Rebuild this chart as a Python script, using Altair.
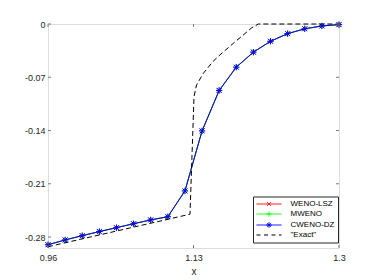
import altair as alt
import pandas as pd

# ---- data ----
x_grid = [0.96, 0.98, 1.00, 1.02, 1.04, 1.06, 1.08, 1.10, 1.12, 1.14,
          1.16, 1.18, 1.20, 1.22, 1.24, 1.26, 1.28, 1.30]
y_weno_lsz = [-0.2901, -0.2838, -0.2782, -0.2728, -0.2677, -0.2625, -0.2575, -0.2533,
              -0.2194, -0.1405, -0.0873, -0.0567, -0.0370, -0.0227, -0.0127, -0.0063,
              -0.0026, -0.0008]
y_mweno = [-0.2901, -0.2838, -0.2782, -0.2728, -0.2677, -0.2625, -0.2575, -0.2533,
           -0.2194, -0.1405, -0.0873, -0.0567, -0.0370, -0.0227, -0.0127, -0.0063,
           -0.0026, -0.0008]
y_cweno_dz = [-0.2901, -0.2838, -0.2782, -0.2728, -0.2677, -0.2625, -0.2575, -0.2533,
              -0.2194, -0.1405, -0.0873, -0.0567, -0.0370, -0.0227, -0.0127, -0.0063,
              -0.0026, -0.0008]
x_exact = [0.96, 1.1259, 1.1306, 1.1336, 1.1415, 1.1530, 1.1610, 1.1765, 1.1870,
           1.1980, 1.2057, 1.30]
y_exact = [-0.2927, -0.2500, -0.0954, -0.0800, -0.0648, -0.0490, -0.0405, -0.0254,
           -0.0155, -0.0050, 0.0, 0.0]

series_names = ["WENO-LSZ", "MWENO", "CWENO-DZ", '"Exact"']
series_colors = ["#ff0000", "#00ff00", "#0000ff", "#000000"]
x_ticks = [0.96, 1.13, 1.3]
y_ticks = [-0.28, -0.21, -0.14, -0.07, 0.0]

# ---- styles ----
W, H = 291, 224
FONT = "Liberation Sans"
AX = "#262626"
BOX = "#7a7a7a"
marker_paths = [
    "M-1,-1L1,1M-1,1L1,-1",
    "M-1,0H1M0,-1V1",
    "M-1,0H1M0,-1V1M-0.7,-0.7L0.7,0.7M-0.7,0.7L0.7,-0.7",
]
marker_sizes = [25, 36, 40]
# legend symbols: unit = 4 px (symbolSize 64); line is 25 px long
legend_paths = [
    "M-3.125,0H3.125M-0.5,-0.5L0.5,0.5M-0.5,0.5L0.5,-0.5",
    "M-3.125,0H3.125M-0.65,0H0.65M0,-0.65V0.65",
    "M-3.125,0H3.125M-0.7,0H0.7M0,-0.7V0.7M-0.5,-0.5L0.5,0.5M-0.5,0.5L0.5,-0.5",
    "M-3.125,0H3.125",
]
legend_dash = [[1, 0], [1, 0], [1, 0], [4, 3.5]]

xs = alt.Scale(domain=[0.96, 1.3], nice=False, zero=False)
ys = alt.Scale(domain=[-0.2944, 0.0], nice=False, zero=False)

x_axis = alt.Axis(values=x_ticks, labelExpr="toString(datum.value)",
                  ticks=False, domain=False, grid=False,
                  labelPadding=5, labelFlush=False, labelOverlap=False,
                  labelFontSize=9, labelFont=FONT, labelColor=AX,
                  title="x", titleFontSize=10, titleFont=FONT, titleColor=AX,
                  titleFontWeight="normal", titlePadding=4)
y_axis = alt.Axis(values=y_ticks, ticks=False, domain=False, grid=False,
                  labelExpr="datum.value == 0 ? '0' : '-' + format(abs(datum.value), '.2f')",
                  labelPadding=3, labelFlush=False, labelOverlap=False,
                  labelFontSize=9, labelFont=FONT, labelColor=AX, title=None)


def X(field):
    return alt.X(field, scale=xs, axis=x_axis, title="x")


def Y(field):
    return alt.Y(field, scale=ys, axis=y_axis, title=None)


series_y = [y_weno_lsz, y_mweno, y_cweno_dz]
layers = []
for i in range(3):
    df = pd.DataFrame({"x": x_grid, "y": series_y[i]})
    layers.append(alt.Chart(df).mark_line(color=series_colors[i], strokeWidth=1).encode(
        x=X("x:Q"), y=Y("y:Q")))
    layers.append(alt.Chart(df).mark_point(shape=marker_paths[i], size=marker_sizes[i],
                                           filled=False, opacity=1, strokeWidth=1,
                                           color=series_colors[i]).encode(
        x=X("x:Q"), y=Y("y:Q")))

df_ex = pd.DataFrame({"x": x_exact, "y": y_exact})
layers.append(alt.Chart(df_ex).mark_line(color=series_colors[3], strokeWidth=1,
                                         strokeDash=[5, 3]).encode(x=X("x:Q"), y=Y("y:Q")))

# inward ticks on all four sides
df_yt = pd.DataFrame({"y": y_ticks})
df_xt = pd.DataFrame({"x": x_ticks})
layers.append(alt.Chart(df_yt).mark_rule(color=BOX, strokeWidth=1).encode(
    y=Y("y:Q"), x=alt.value(0), x2=alt.value(3)))
layers.append(alt.Chart(df_yt).mark_rule(color=BOX, strokeWidth=1).encode(
    y=Y("y:Q"), x=alt.value(W), x2=alt.value(W - 3)))
layers.append(alt.Chart(df_xt).mark_rule(color=BOX, strokeWidth=1).encode(
    x=X("x:Q"), y=alt.value(H), y2=alt.value(H - 3)))
layers.append(alt.Chart(df_xt).mark_rule(color=BOX, strokeWidth=1).encode(
    x=X("x:Q"), y=alt.value(0), y2=alt.value(3)))

# legend-only layer (no rows drawn)
leg = alt.Legend(title=None, orient="none", legendX=205, legendY=172.5,
                 padding=3, strokeColor=AX, fillColor="white",
                 labelFontSize=8, labelFont=FONT, labelColor="#000000",
                 labelFontWeight="normal",
                 rowPadding=0, symbolSize=64, symbolOffset=8.5, labelOffset=17,
                 symbolStrokeWidth=1)
df_leg = pd.DataFrame({"series": series_names})
legend_layer = alt.Chart(df_leg).mark_point(filled=False, opacity=1, strokeWidth=1).encode(
    color=alt.Color("series:N", scale=alt.Scale(domain=series_names, range=series_colors), legend=leg),
    shape=alt.Shape("series:N", scale=alt.Scale(domain=series_names, range=legend_paths), legend=leg),
    strokeDash=alt.StrokeDash("series:N", scale=alt.Scale(domain=series_names, range=legend_dash), legend=leg),
).transform_filter("false")
layers.append(legend_layer)

chart = alt.layer(*layers).properties(
    width=W, height=H,
    autosize=alt.AutoSizeParams(type="none"),
    padding={"left": 40, "top": 16, "right": 27, "bottom": 32},
).configure_view(stroke=BOX, strokeWidth=1).configure(background="white")

chart.save("out.html", embed_options={"renderer": "svg", "actions": False})
